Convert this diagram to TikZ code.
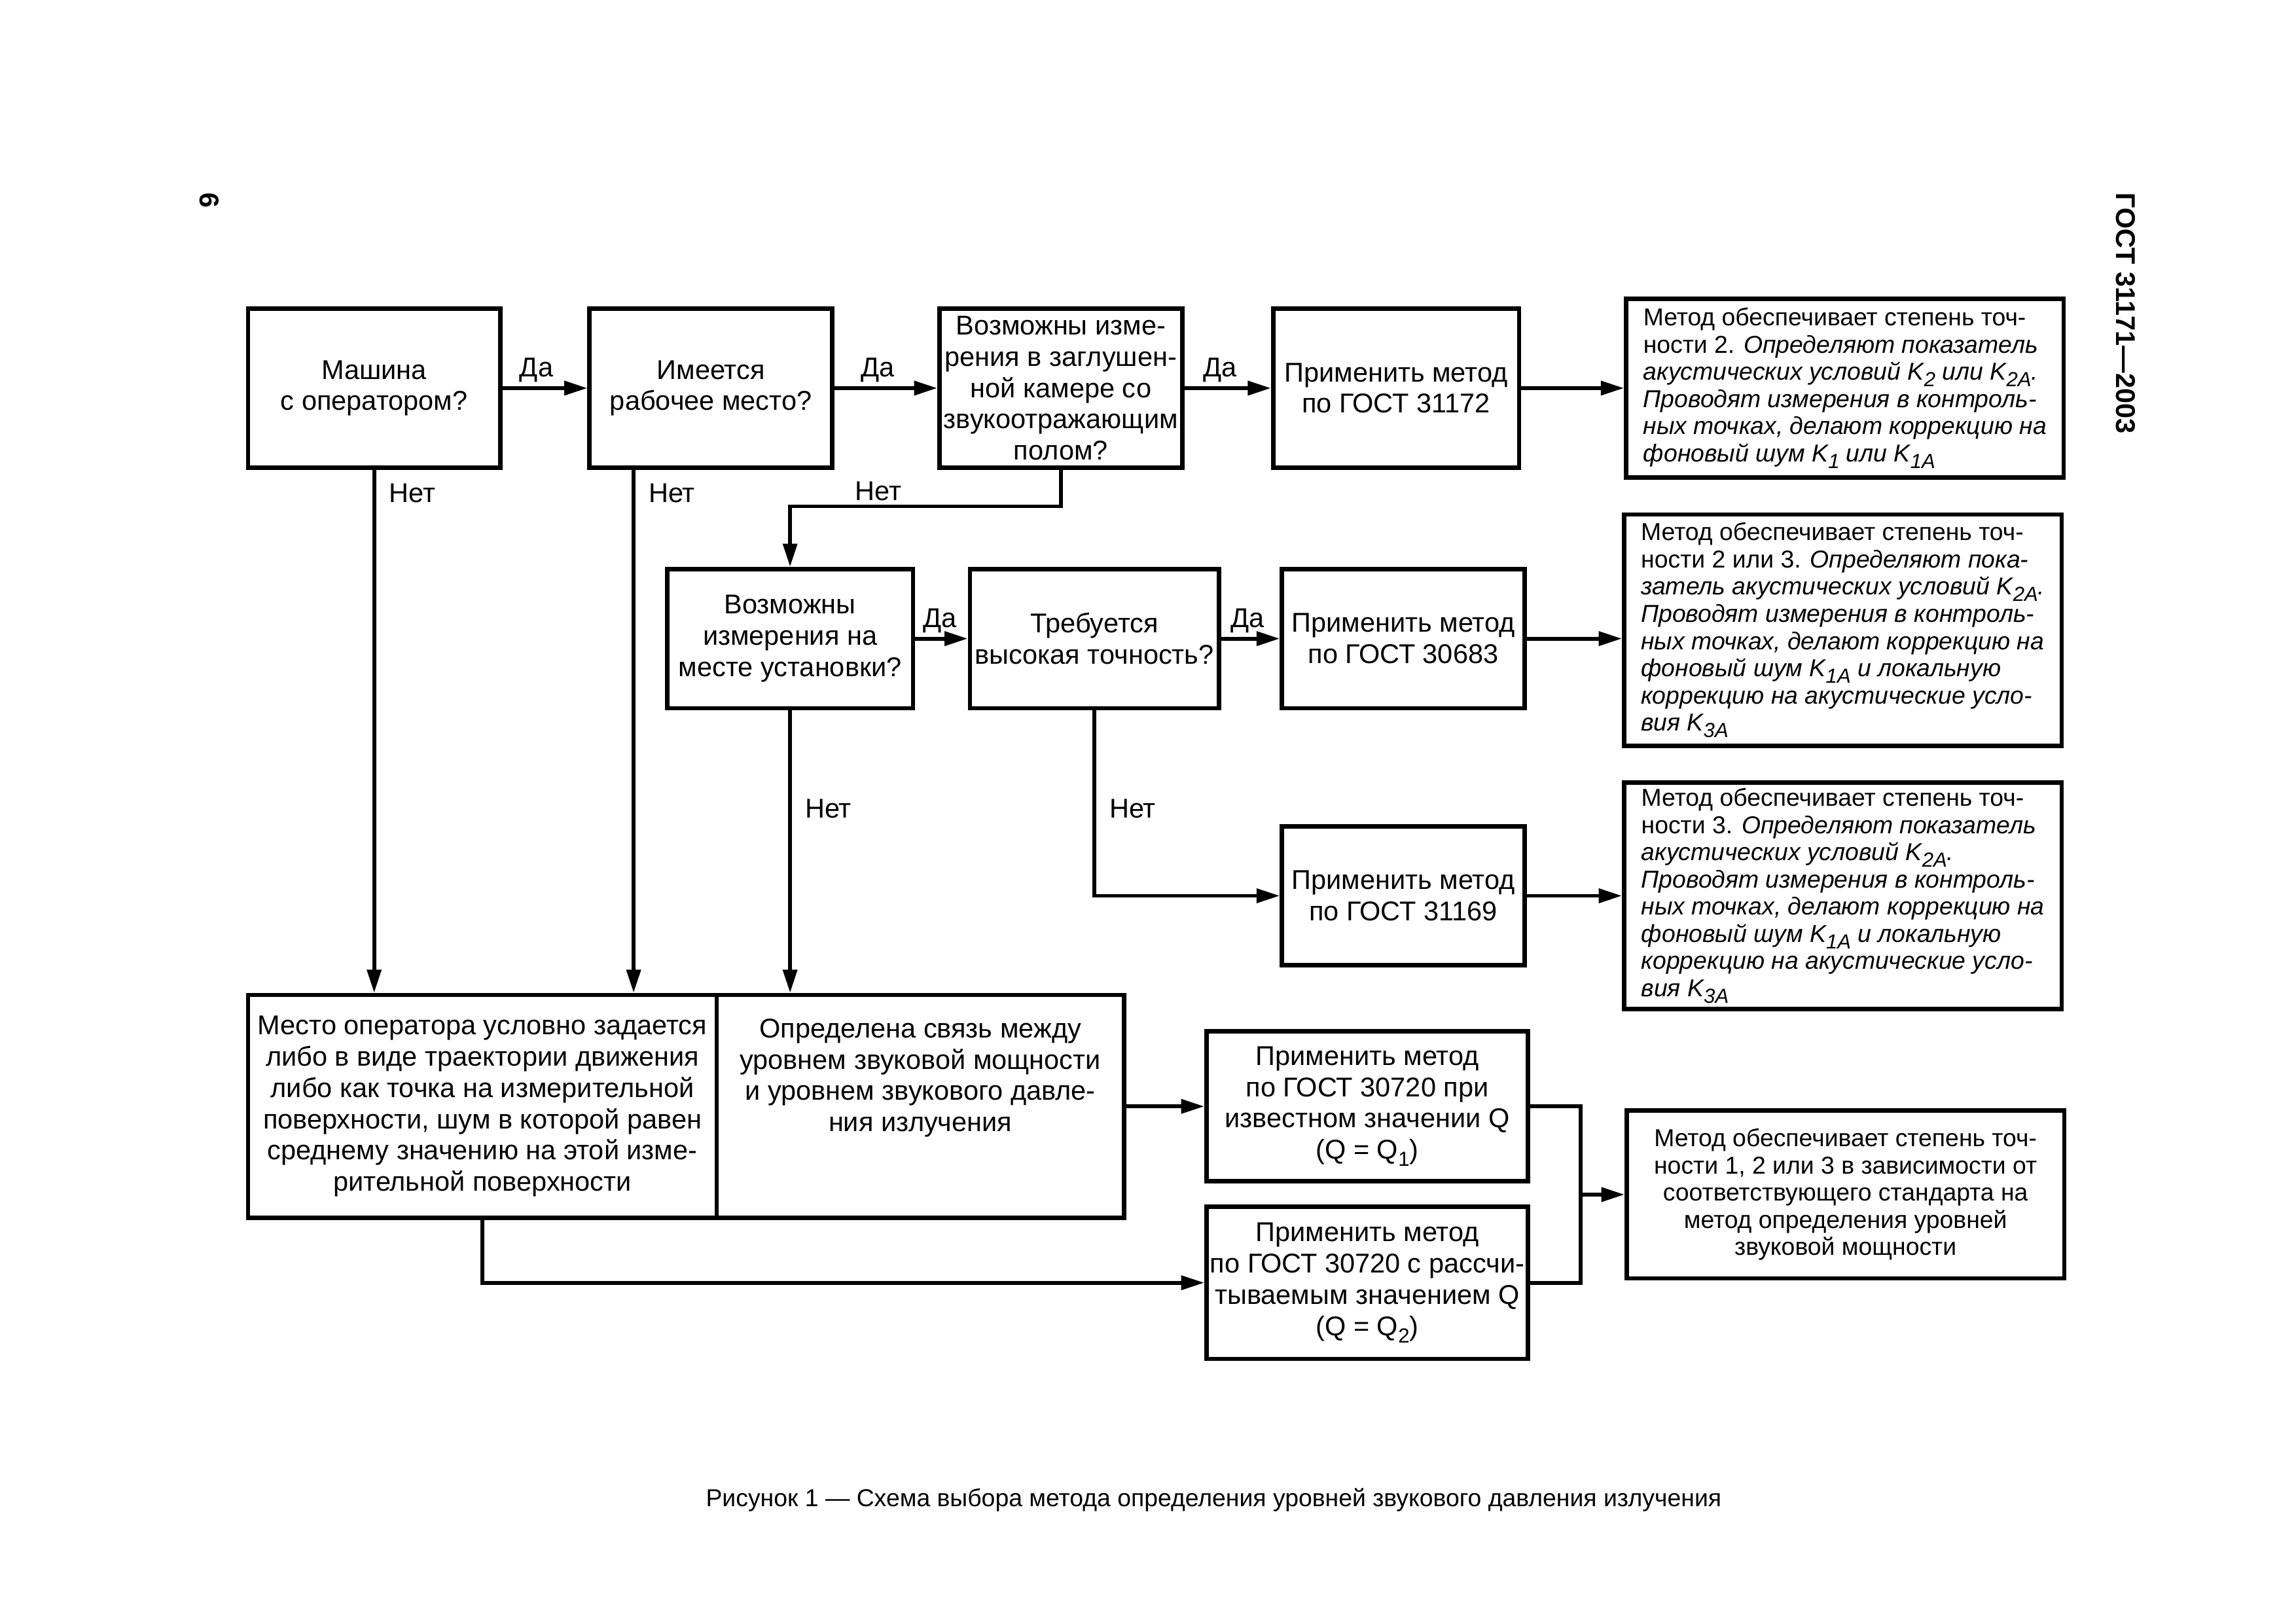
\documentclass[tikz,border=0pt]{standalone}
\usepackage{fontspec}
\setmainfont{Liberation Sans}
\usetikzlibrary{arrows.meta,positioning,calc}

\newcommand{\lowidx}[1]{\raisebox{-.5ex}{\fontsize{7.5}{8}\selectfont#1}}

\tikzset{
  box/.style={draw, line width=1.6pt, align=center, inner xsep=1mm, inner ysep=.5mm,
    font=\fontsize{10}{11.5}\selectfont},
  res/.style={box, minimum width=56.6mm, font=\fontsize{9}{10}\selectfont},
  lbl/.style={font=\fontsize{10}{12}\selectfont, inner sep=.5mm}
}

\begin{document}
\begin{tikzpicture}[x=1mm,y=1mm,->,>={Triangle[length=3mm,width=1.8mm]},line width=1.4pt]
    \useasboundingbox (0,0) rectangle (297,-210);

    % top row
    \node[box, minimum width=32.6mm, minimum height=20.6mm] (m1) at (48.4,-50.2) {Машина\\с оператором?};
    \node[box, minimum width=31.4mm, minimum height=20.6mm, right=11mm of m1] (m2) {Имеется\\рабочее место?};
    \node[box, inner xsep=.2mm, minimum width=31.4mm, minimum height=20.6mm, right=13.3mm of m2] (m3) {Возможны изме-\\рения в заглушен-\\ной камере со\\звукоотражающим\\полом?};
    \node[box, minimum width=31.8mm, minimum height=20.6mm, right=11.2mm of m3] (m4) {Применить метод\\по ГОСТ 31172};
    \node[res, align=left, minimum height=23.1mm, right=13.3mm of m4] (r1) {Метод обеспечивает степень точ-\\ности 2. \textit{Определяют показатель}\\\textit{акустических условий K\lowidx{2} или K\lowidx{2A}.}\\\textit{Проводят измерения в контроль-}\\\textit{ных точках, делают коррекцию на}\\\textit{фоновый шум K\lowidx{1} или K\lowidx{1A}}};

    % second row
    \node[box, inner xsep=.3mm, minimum width=31.8mm, minimum height=18mm] (m6) at (102.2,-82.6) {Возможны\\измерения на\\месте установки?};
    \node[box, inner xsep=.3mm, minimum width=32.2mm, minimum height=18mm, right=6.8mm of m6] (m7) {Требуется\\высокая точность?};
    \node[box, minimum width=31.4mm, minimum height=18mm, right=7.6mm of m7] (m8) {Применить метод\\по ГОСТ 30683};
    \node[res, align=left, minimum height=29.9mm, right=12.3mm of m8, yshift=1.1mm] (r2) {Метод обеспечивает степень точ-\\ности 2 или 3. \textit{Определяют пока-}\\\textit{затель акустических условий K\lowidx{2A}.}\\\textit{Проводят измерения в контроль-}\\\textit{ных точках, делают коррекцию на}\\\textit{фоновый шум K\lowidx{1A} и локальную}\\\textit{коррекцию на акустические усло-}\\\textit{вия K\lowidx{3A}}};
    \node[box, minimum width=31.4mm, minimum height=18mm, below=14.7mm of m8] (m10) {Применить метод\\по ГОСТ 31169};
    \node[res, align=left, minimum height=29.3mm, right=12.3mm of m10] (r3) {Метод обеспечивает степень точ-\\ности 3. \textit{Определяют показатель}\\\textit{акустических условий K\lowidx{2A}.}\\\textit{Проводят измерения в контроль-}\\\textit{ных точках, делают коррекцию на}\\\textit{фоновый шум K\lowidx{1A} и локальную}\\\textit{коррекцию на акустические усло-}\\\textit{вия K\lowidx{3A}}};

    % bottom row
    \node[box, minimum width=60.6mm, minimum height=28.8mm] (m12) at (62.4,-143.1) {Место оператора условно задается\\либо в виде траектории движения\\либо как точка на измерительной\\поверхности, шум в которой равен\\среднему значению на этой изме-\\рительной поверхности};
    \node[box, minimum width=52.7mm, minimum height=28.8mm, right=-1.6pt of m12] (m13) {Определена связь между\\уровнем звуковой мощности\\и уровнем звукового давле-\\ния излучения\\\phantom{Х}\\\phantom{Х}};
    \node[box, inner xsep=.3mm, minimum width=41.6mm, minimum height=19.4mm, right=10.1mm of m13] (m14) {Применить метод\\по ГОСТ 30720 при\\известном значении Q\\(Q = Q\lowidx{1})};
    \node[box, inner xsep=.3mm, minimum width=41.6mm, minimum height=19.7mm, below=2.7mm of m14] (m15) {Применить метод\\по ГОСТ 30720 с рассчи-\\тываемым значением Q\\(Q = Q\lowidx{2})};
    \coordinate (mid) at ($(m14.east)!.5!(m15.east)$);
    \coordinate[right=6.5mm of mid] (jn);
    \node[res, minimum height=21.7mm, right=12.2mm of mid] (r4) {Метод обеспечивает степень точ-\\ности 1, 2 или 3 в зависимости от\\соответствующего стандарта на\\метод определения уровней\\звуковой мощности};

    % connectors
    \draw (m1) -- node[lbl, above, pos=.4] {Да} (m2);
    \draw (m2) -- node[lbl, above, pos=.42] {Да} (m3);
    \draw (m3) -- node[lbl, above, pos=.41] {Да} (m4);
    \draw (m4) -- (m4 -| r1.west);
    \draw (m6) -- node[lbl, above, pos=.47] {Да} (m7);
    \draw (m7) -- node[lbl, above, pos=.45] {Да} (m8);
    \draw (m8) -- (m8 -| r2.west);
    \draw (m10) -- (r3);
    \draw (m1.south) -- node[lbl, right=1.2mm, pos=.044] {Нет} (m1.south |- m12.north);
    \draw ([xshift=-10mm]m2.south) -- node[lbl, right=1.2mm, pos=.044] {Нет} ([xshift=-10mm]m2.south |- m12.north);
    \draw (m3.south) -- ++(0,-4.7) -| node[lbl, above, pos=.337] {Нет} (m6.north);
    \draw (m6.south) -- node[lbl, right=1.2mm, pos=.348] {Нет} (m6.south |- m13.north);
    \draw (m7.south) |- node[lbl, right=1.2mm, pos=.265] {Нет} (m10.west);
    \draw (m13) -- (m14);
    \draw (m12.south) |- (m15.west);
    \draw[-] (m14.east) -| (jn) |- (m15.east);
    \draw (jn) -- (r4);

    % page furniture
    \node[font=\fontsize{9}{11}\selectfont] (cap) at (157,-194) {Рисунок 1 — Схема выбора метода определения уровней звукового давления излучения};
    \node[font=\bfseries\fontsize{10}{12}\selectfont, rotate=-90] (hdr) at (275,-40.5) {ГОСТ 31171—2003};
    \node[font=\bfseries\fontsize{10}{12}\selectfont, rotate=-90] (pg) at (27.1,-25.9) {6};
\end{tikzpicture}
\end{document}
